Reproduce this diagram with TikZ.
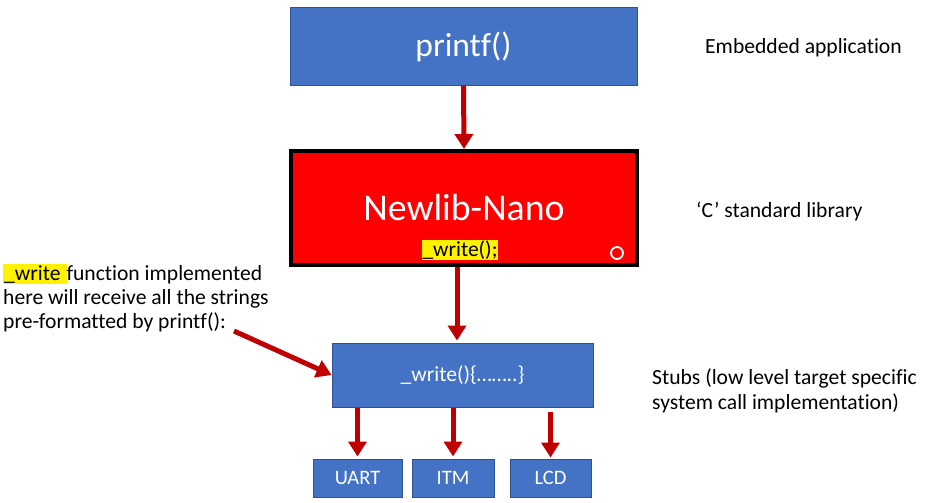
\documentclass[tikz,border=0pt]{standalone}
\usepackage{fontspec}
\setmainfont{Carlito}[Ligatures=CommonOff]
\usetikzlibrary{positioning,calc,arrows.meta}
\definecolor{boxblue}{HTML}{4472C4}
\definecolor{boxedge}{HTML}{2F528F}
\definecolor{arrred}{HTML}{C00000}
\definecolor{libred}{HTML}{FF0000}
\newcommand{\hlyel}[1]{{\setlength{\fboxsep}{1pt}\colorbox{yellow}{#1}}}
\tikzset{bluebox/.style={draw=boxedge, line width=1pt, fill=boxblue, text=white, inner sep=0pt, align=center}}
\tikzset{libbox/.style={draw=black, line width=4pt, fill=libred, text=white, inner sep=0pt, align=center}}
\tikzset{sidenote/.style={anchor=west, inner sep=0pt, align=left, font=\fontsize{21.6}{25}\selectfont}}
\tikzset{arr/.style={draw=arrred, line width=5pt, -{Triangle[width=18pt,length=15pt]}, arrred}}
\begin{document}
\begin{tikzpicture}[x=1pt,y=-1pt]
			\useasboundingbox (0,0) rectangle (926,503);
			\node[bluebox, minimum width=347, minimum height=77, font=\fontsize{33.5}{38}\selectfont] (app) at (463.5,46.5) {printf()};
			\node[libbox, minimum width=346, minimum height=114, font=\fontsize{37.8}{44}\selectfont] (lib) at (464,208) {Newlib-Nano};
			\node[fill=yellow, inner sep=1pt, font=\fontsize{21.5}{24}\selectfont] (libw) at (460,250) {\_write();};
			\draw[white, line width=1.8pt] (617,253) circle (6);
			\node[bluebox, minimum width=261, minimum height=64, font=\fontsize{21.6}{24}\selectfont] (stub) at (462.5,375) {\_write()\{……..\}};
			\node[bluebox, minimum width=89, minimum height=38, font=\fontsize{20.5}{24}\selectfont] (uart) at (357.5,478) {UART};
			\node[bluebox, minimum width=82, minimum height=38, font=\fontsize{20.5}{24}\selectfont, right=9 of uart] (itm) {ITM};
			\node[bluebox, minimum width=81, minimum height=38, font=\fontsize{20.5}{24}\selectfont, right=15 of itm] (lcd) {LCD};
%
			\draw[arr] (app.south) -- (lib.north);
			\draw[arr] ($(lib.south)+(-7,0)$) -- ($(stub.north)+(-5.5,-2)$);
			\draw[arr, shorten >=2pt] (uart.north |- stub.south) -- (uart.north);
			\draw[arr, shorten >=2pt] (itm.north |- stub.south) -- (itm.north);
			\draw[arr, shorten <=4pt, shorten >=1pt] (lcd.north |- stub.south) -- (lcd.north);
%
			\node[sidenote] (apptxt) at (705,48) {Embedded application};
			\node[sidenote] (libtxt) at (696,211) {‘C’ standard library};
			\node[sidenote] (stubtxt) at (652,391) {Stubs (low level target specific\\system call implementation)};
			\node[sidenote, font=\fontsize{21.6}{24}\selectfont] (note) at (3,298) {\hlyel{\_write\ }function implemented\\here will receive all the strings\\pre-formatted by printf():};
			\coordinate (noteend) at (234,331);
			\draw[arr] (noteend) -- (stub.west);
		\end{tikzpicture}
\end{document}
